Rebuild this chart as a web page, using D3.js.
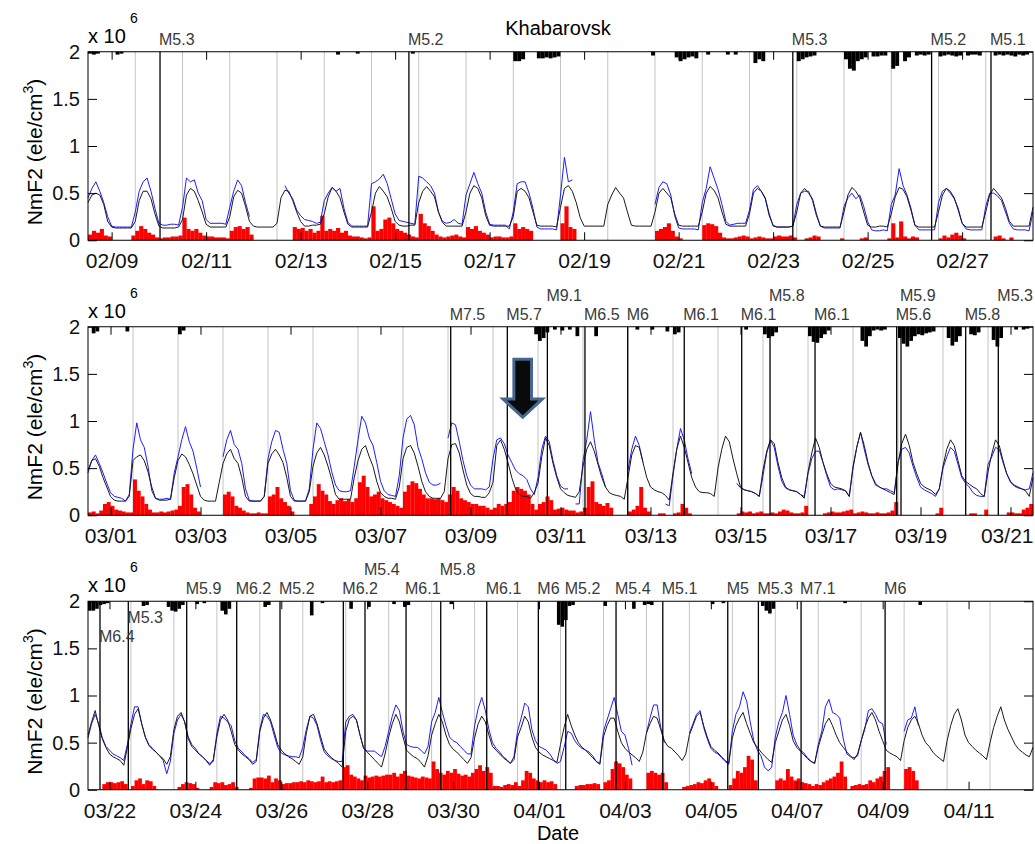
<!DOCTYPE html>
<html>
<head>
<meta charset="utf-8">
<script src="https://cdn.jsdelivr.net/npm/d3@7"></script>
<style>
body { margin: 0; background: #fff; }
svg text { font-family: "Liberation Sans", Arial, sans-serif; }
</style>
</head>
<body>
<div id="chart"></div>
<script>
var width = 1035,
    height = 844,
    left = 88,
    right = 1033,
    panelH = 188.5;

var _ = null; // no data

// every series is sampled each 2 hours from 12:00 UT of the panel's first day,
// values are NmF2 in units of 10^4 ele/cm3 (so 50 = 0.5 x 10^6)

// ---- panel 1: 02/08 12:00 .. 02/28 12:00 ----
var start1 = "2011-02-08T12:00Z", days1 = 20;
var median1 = [
40,48,50,48,38,20,14,13,13,13,13,13,
20,42,52,52,44,28,15,13,13,13,13,14,
22,48,55,52,42,30,17,14,14,14,14,14,
25,46,53,50,36,20,15,14,14,14,14,14,
18,45,53,52,42,30,20,15,15,16,16,17,
28,46,56,52,45,30,17,14,14,14,14,14,
30,50,57,52,46,34,20,16,15,15,16,16,
40,52,57,52,46,30,19,15,15,15,15,15,
30,50,58,55,45,26,16,15,15,15,15,15,
25,52,55,52,45,30,16,15,15,15,15,14,
35,55,58,52,40,24,15,15,15,15,15,15,
38,48,56,50,45,30,16,15,15,15,15,15,
30,50,55,50,45,28,16,15,15,15,15,15,
30,50,57,53,45,30,17,15,15,15,15,15,
28,50,55,52,45,28,15,14,14,14,14,15,
30,50,55,50,44,28,15,14,14,14,14,14,
30,48,56,52,45,30,16,14,14,15,15,14,
28,46,56,54,46,32,16,14,14,14,14,14,
30,48,55,52,45,32,18,14,14,14,14,14,
30,48,55,50,45,34,20,15,15,15,15,15,
35];
var observed1 = [
45,55,62,52,40,25,15,14,14,14,14,14,
30,52,62,66,52,34,18,16,16,17,17,16,
35,66,62,64,50,42,22,18,18,18,18,17,
35,52,64,58,40,25,_,_,_,_,_,_,
_,_,58,50,44,32,26,22,21,20,18,19,
42,50,56,52,55,34,19,15,15,15,15,15,
60,62,65,70,60,44,28,21,20,19,18,17,
68,66,62,58,50,30,20,18,19,22,18,17,
48,60,72,60,50,30,17,16,16,16,16,12,
30,60,62,62,50,34,14,12,12,12,12,11,
48,88,62,64,_,_,_,_,_,_,_,_,
_,_,_,_,_,_,_,_,_,_,_,_,
38,56,62,60,48,26,13,12,12,12,12,11,
40,55,78,66,54,38,20,16,17,18,18,18,
32,54,58,52,44,26,16,14,14,14,14,15,
38,50,52,52,42,26,15,13,13,13,13,13,
36,45,50,44,48,36,20,11,10,10,11,10,
38,48,76,58,48,34,16,11,11,11,11,11,
40,52,55,50,44,34,18,12,11,11,11,11,
36,50,50,47,42,30,18,12,11,11,11,10,
30];
var excess1 = [
6,10,8,12,5,4,0,0,0,0,0,5,
10,15,12,8,6,3,2,3,3,4,4,5,
24,12,10,12,8,5,4,4,3,3,3,2,
10,14,15,12,14,6,0,0,0,0,0,0,
0,0,0,0,14,12,13,10,12,8,10,26,
10,12,10,13,8,10,5,4,4,3,2,3,
36,10,12,22,24,18,12,10,8,6,4,3,
28,18,15,10,6,4,3,4,5,6,4,3,
14,12,15,10,8,6,3,4,4,3,3,4,
18,12,14,12,10,0,0,0,0,0,0,0,
18,36,14,12,0,0,0,0,0,0,0,0,
0,0,0,0,0,0,0,0,0,0,0,0,
10,12,14,18,10,4,2,0,0,0,0,0,
16,18,17,15,8,3,2,2,3,4,5,4,
2,3,4,3,2,2,4,5,4,4,5,3,
0,0,2,3,5,4,0,0,0,0,0,2,
0,0,0,0,2,3,0,0,0,0,0,2,
18,3,20,4,2,4,3,0,0,0,0,0,
2,5,3,6,8,5,2,0,0,0,0,0,
0,0,4,5,2,0,3,0,0,0,0,0];
// [sample index, depth below 2 x 10^6]
var deficit1 = [[0,2],[1,3],[2,2],[7,3],[8,2],[63,3],[68,2],[82,2],[108,10],[109,10],[110,8],
[114,7],[115,7],[116,6],[117,7],[118,6],[119,5],[143,4],[149,6],[150,10],[151,8],[152,6],[153,5],
[154,7],[157,3],[162,3],[164,3],[169,12],[170,8],[171,10],[180,10],[181,8],[182,6],[183,5],[184,4],
[192,8],[193,18],[194,20],[195,10],[196,8],[197,6],[199,5],[200,5],[201,4],[202,4],[204,18],[205,15],
[207,10],[208,6],[210,4],[211,3],[212,4],[213,3],[216,5],[217,4],[218,3],[219,4],[220,5],[221,4],
[223,4],[224,3],[225,3],[226,4],[230,4],[231,3],[232,4],[233,3],[234,4],[235,5],[236,3],[237,4],[238,3]];
var ticks1 = ["02/09","02/11","02/13","02/15","02/17","02/19","02/21","02/23","02/25","02/27"];
// [time UT, magnitude, label row]
var quakes1 = [["2011-02-10T00:35Z","M5.3",1],["2011-02-15T07:00Z","M5.2",1],
["2011-02-23T10:00Z","M5.3",1],["2011-02-26T08:30Z","M5.2",1],["2011-02-27T14:40Z","M5.1",1]];

// ---- panel 2: 02/28 12:00 .. 03/21 12:00 ----
var start2 = "2011-02-28T12:00Z", days2 = 21;
var median2 = [
48,58,60,52,40,30,20,16,15,15,15,20,
58,62,64,58,46,30,18,16,16,16,17,40,
58,65,62,54,44,32,20,16,15,15,15,35,
55,65,70,60,55,40,20,15,15,15,15,20,
55,65,70,64,56,40,20,15,15,15,15,25,
52,66,72,64,52,38,22,17,17,17,17,40,
58,70,74,62,52,36,24,20,18,18,17,30,
60,72,74,66,52,36,25,20,18,18,18,25,
60,75,76,66,48,32,23,20,20,19,19,24,
35,74,80,70,56,40,28,22,20,20,18,24,
34,62,82,74,55,40,28,24,21,20,19,25,
52,70,78,68,54,40,30,24,22,21,20,17,
40,64,74,72,56,40,30,27,25,24,21,16,
45,70,84,72,56,40,30,25,24,24,23,20,
50,70,84,78,60,44,30,27,26,25,23,20,
48,68,80,76,56,40,30,27,26,25,22,18,
46,66,82,72,56,44,34,30,29,28,26,20,
50,72,88,74,56,42,34,30,28,26,24,22,
55,76,86,74,56,44,34,30,28,26,22,28,
52,70,80,74,58,42,36,33,30,28,23,20,
46,65,80,74,58,44,36,32,30,28,26,20,
40];
var observed2 = [
45,58,64,55,45,34,24,20,19,18,15,22,
70,98,80,72,52,26,18,17,17,18,17,45,
62,80,94,78,68,50,30,_,_,_,_,_,
62,80,90,75,70,55,28,16,15,15,15,20,
60,78,90,88,70,55,26,16,15,15,15,28,
70,98,92,78,64,46,32,26,25,25,26,52,
80,105,98,82,74,56,36,26,22,21,20,42,
82,102,106,96,72,60,45,35,32,32,34,_,
82,98,96,78,58,42,32,28,28,28,27,30,
60,80,82,76,64,56,48,44,42,38,28,22,
40,70,84,78,58,42,31,28,28,_,12,12,
58,80,110,80,56,44,30,_,_,_,_,_,
48,70,84,74,56,_,_,_,_,_,12,10,
42,70,92,80,60,44,_,_,_,_,_,_,
_,_,_,_,_,34,29,27,26,25,23,20,
42,66,80,72,52,36,29,27,26,25,22,20,
44,60,68,68,56,42,30,27,28,27,26,20,
52,72,88,70,54,42,32,30,28,28,26,24,
56,70,72,66,52,40,30,27,25,23,20,28,
50,62,72,68,54,40,34,30,24,21,20,20,
54,62,72,70,56,44,35,31,29,28,27,28,
45];
var excess2 = [
3,4,2,5,12,14,10,6,5,4,3,3,
38,26,20,12,6,3,3,4,3,4,5,6,
10,30,33,22,8,4,0,0,0,0,0,0,
22,25,20,10,8,5,3,2,2,3,2,2,
20,22,30,18,14,10,4,0,0,0,0,12,
20,33,26,22,15,12,16,18,15,17,14,18,
35,42,30,20,22,25,18,16,14,12,10,8,
25,32,36,34,28,22,18,18,17,18,16,14,
22,30,26,18,16,14,12,12,10,10,8,6,
8,12,10,12,14,26,30,28,26,22,12,6,
12,14,20,16,6,7,8,6,5,5,3,4,
8,30,36,14,12,10,13,8,0,0,0,0,
4,6,10,30,8,4,0,0,2,2,0,0,
2,3,12,8,2,0,0,0,0,0,0,0,
0,0,0,0,0,2,4,3,4,2,3,4,
2,2,3,2,4,6,5,3,2,2,3,10,
0,0,0,0,2,3,4,3,3,4,5,6,
2,3,4,3,2,2,3,2,2,3,5,14,
0,0,0,0,0,0,0,0,0,0,2,8,
0,0,0,0,0,0,0,2,2,0,0,6,
0,0,0,0,0,3,3,2,2,6,8,12];
var deficit2 = [[1,7],[2,5],[10,5],[24,8],[25,4],[119,8],[120,15],[121,12],[122,6],[124,3],[126,4],
[128,3],[130,10],[135,10],[146,3],[150,3],[154,5],[156,8],[157,6],[175,3],[180,8],[181,12],[182,10],
[183,6],[192,10],[193,16],[194,17],[195,12],[196,8],[197,4],[206,15],[207,21],[208,10],[209,4],[210,3],
[211,4],[212,3],[216,12],[217,18],[218,21],[219,15],[220,10],[221,8],[222,9],[223,7],[224,6],[225,5],
[229,12],[230,20],[231,16],[232,10],[235,8],[236,9],[237,6],[241,14],[242,21],[243,12],[247,3],[249,3],[250,2]];
var ticks2 = ["03/01","03/03","03/05","03/07","03/09","03/11","03/13","03/15","03/17","03/19","03/21"];
var quakes2 = [["2011-03-08T13:26Z","M7.5",1],["2011-03-09T19:38Z","M5.7",1],["2011-03-10T17:00Z","M9.1",0],
["2011-03-11T13:03Z","M6.5",1],["2011-03-12T11:50Z","M6",1],["2011-03-13T18:00Z","M6.1",1],
["2011-03-15T00:39Z","M6.1",1],["2011-03-15T15:45Z","M5.8",0],["2011-03-16T15:45Z","M6.1",1],
["2011-03-18T11:18Z","M5.6",1],["2011-03-18T13:36Z","M5.9",0],["2011-03-20T00:06Z","M5.8",1],
["2011-03-20T17:30Z","M5.3",0]];
var arrowAt = ["2011-03-10T03:50Z", 1.04];

// ---- panel 3: 03/21 12:00 .. 04/12 12:00 ----
var start3 = "2011-03-21T12:00Z", days3 = 22;
var median3 = [
58,72,84,68,54,45,38,35,33,31,26,45,
65,80,86,70,56,47,43,40,36,33,27,35,
64,78,82,72,54,46,42,38,35,31,26,32,
56,74,80,74,62,48,42,38,35,32,27,30,
62,76,82,74,62,48,42,38,35,33,30,27,
35,60,78,80,70,56,43,38,34,31,28,24,
62,75,78,74,58,44,40,36,32,28,24,38,
56,70,80,72,56,42,38,35,33,29,24,36,
58,70,80,72,58,48,43,40,36,32,28,34,
55,70,78,72,58,46,42,38,34,31,28,32,
56,66,78,72,56,45,40,37,35,33,31,29,
48,66,80,68,58,50,45,42,38,34,30,27,
56,68,76,76,62,50,44,40,37,34,30,40,
60,70,78,76,64,52,46,44,40,36,31,38,
58,68,78,82,68,56,46,42,39,35,31,28,
55,68,76,82,70,60,50,45,40,36,32,29,
50,62,74,80,68,52,45,41,37,33,30,28,
45,58,70,76,68,58,50,45,40,36,32,38,
52,66,76,82,74,62,52,42,39,37,35,31,
52,66,74,78,70,58,50,46,40,36,33,30,
52,68,80,86,74,58,50,46,42,39,36,32,
50,66,78,88,74,64,56,48,43,40,37,35,
45];
var observed3 = [
55,70,80,70,55,46,42,38,36,34,31,48,
70,88,88,70,56,48,44,40,36,31,17,30,
60,74,80,72,56,48,44,38,35,31,28,30,
60,78,76,72,68,52,44,40,36,33,29,32,
64,80,78,72,58,45,39,37,36,35,35,34,
45,64,78,76,68,52,40,36,33,31,30,30,
72,78,80,74,58,44,41,41,41,38,35,46,
62,78,90,84,62,48,46,45,45,42,38,46,
72,82,98,82,68,56,52,50,46,42,38,38,
68,86,98,84,64,50,44,40,35,32,28,35,
62,76,92,88,64,52,46,44,42,38,32,28,
30,45,62,60,52,47,44,42,40,36,30,28,
62,74,86,98,80,62,58,44,26,_,_,_,
60,76,90,90,66,50,_,_,_,_,_,_,
60,70,80,84,66,54,44,40,38,34,30,27,
62,80,88,104,94,72,52,42,36,24,20,24,
56,72,82,100,80,58,48,42,39,34,30,28,
48,62,88,96,82,80,76,54,38,35,34,36,
52,64,84,86,80,72,70,48,_,_,_,_,
62,74,76,88,68,_,_,_,_,_,_,_,
_,_,_,_,_,_,_,_,_,_,_,_,
_,_,_,_,_,_,_,_,_,_,_,_,
_];
var excess3 = [
0,0,0,0,6,8,8,7,8,9,6,0,
4,10,12,6,10,9,4,0,0,0,0,0,
0,3,6,8,7,6,2,0,0,0,3,8,
7,8,5,6,8,3,0,0,0,2,12,13,
13,12,15,8,12,10,6,7,7,8,8,9,
8,10,9,8,9,14,8,9,8,9,10,24,
26,16,14,12,10,15,13,14,15,14,15,16,
16,18,14,17,20,15,14,13,12,14,13,12,
30,22,18,16,20,18,22,17,15,16,14,18,
22,26,20,24,18,4,4,3,5,6,5,8,
4,10,20,18,12,10,8,10,8,9,6,0,
0,0,0,0,4,5,5,6,6,7,6,0,
8,10,22,30,28,24,16,12,0,0,0,0,
18,20,18,16,18,8,0,0,0,0,3,4,
5,6,8,7,10,12,8,4,0,0,0,5,
12,20,18,24,36,32,10,0,0,0,0,0,
10,12,10,22,14,10,12,8,7,6,4,6,
5,8,10,12,14,18,30,14,0,4,5,6,
5,6,10,8,12,14,20,24,0,0,0,0,
22,24,20,10,0,0,0,0,0,0,0,0,
0,0,0,0,0,0,0,0,0,0,0,0,
0,0,0,0,0,0,0,0,0,0,0,0];
var deficit3 = [[0,10],[1,10],[2,8],[3,4],[4,3],[5,2],[15,5],[16,4],[22,6],[23,10],[24,11],[25,8],[26,4],
[30,3],[32,2],[37,10],[38,14],[39,8],[49,6],[50,4],[62,15],[65,2],[73,8],[78,6],[85,3],[88,6],[89,4],
[101,3],[131,25],[132,27],[133,20],[134,5],[135,4],[144,5],[152,8],[155,4],[156,3],[157,4],[174,3],
[177,2],[188,5],[189,10],[190,13],[191,8],[211,2],[232,4]];
var ticks3 = ["03/22","03/24","03/26","03/28","03/30","04/01","04/03","04/05","04/07","04/09","04/11"];
var quakes3 = [["2011-03-21T18:42Z","M6.4",3],["2011-03-22T10:31Z","M5.3",2],["2011-03-23T19:09Z","M5.9",1],
["2011-03-24T23:05Z","M6.2",1],["2011-03-25T23:17Z","M5.2",1],["2011-03-27T10:39Z","M6.2",1],
["2011-03-27T22:46Z","M5.4",0],["2011-03-28T21:42Z","M6.1",1],["2011-03-29T17:05Z","M5.8",0],
["2011-03-30T18:47Z","M6.1",1],["2011-03-31T23:37Z","M6",1],["2011-04-01T14:56Z","M5.2",1],
["2011-04-02T19:02Z","M5.4",1],["2011-04-03T21:09Z","M5.1",1],["2011-04-05T09:27Z","M5",1],
["2011-04-06T02:34Z","M5.3",1],["2011-04-07T02:25Z","M7.1",1],["2011-04-09T01:22Z","M6",1]];

var yTicks = [0, 0.5, 1, 1.5, 2];
var labelRowDy = [-26, -7, 22, 41];

var svg = d3.select("#chart")
    .append("svg")
    .attr("width", width)
    .attr("height", height);

var parseTick = d3.utcParse("%Y/%m/%d");

function drawPanel(p) {
    var t0 = new Date(p.start),
        t1 = d3.utcHour.offset(t0, p.days * 24);
    var x = d3.scaleUtc().domain([t0, t1]).range([left, right]);
    var y = d3.scaleLinear().domain([0, 2]).range([p.top + panelH, p.top]);
    var time = function(i) { return d3.utcHour.offset(t0, 2 * i); };
    var step = x(time(1)) - x(time(0));
    var g = svg.append("g");

    // local day marks at 12 UT
    var noons = d3.utcDays(t0, t1)
        .map(function(d) { return d3.utcHour.offset(d, 12); })
        .filter(function(d) { return d > t0 && d < t1; });
    g.selectAll(".noon")
        .data(noons)
        .enter()
        .append("line")
        .attr("x1", function(d) { return x(d); })
        .attr("x2", function(d) { return x(d); })
        .attr("y1", y(2))
        .attr("y2", y(0))
        .style("stroke", "#c4c4c4")
        .style("stroke-width", 1);

    // red bars at the bottom
    g.selectAll(".excess")
        .data(p.excess.map(function(v, i) { return {i: i, v: v}; }).filter(function(d) { return d.v > 0; }))
        .enter()
        .append("rect")
        .attr("x", function(d) { return x(time(d.i)); })
        .attr("width", step + 0.2)
        .attr("y", function(d) { return y(d.v / 100); })
        .attr("height", function(d) { return y(0) - y(d.v / 100); })
        .style("fill", "#ff0000");

    // black bars hanging from the top
    g.selectAll(".deficit")
        .data(p.deficit)
        .enter()
        .append("rect")
        .attr("x", function(d) { return x(time(d[0])); })
        .attr("width", step)
        .attr("y", y(2))
        .attr("height", function(d) { return y(2 - d[1] / 100) - y(2); })
        .style("fill", "#000");

    var line = d3.line()
        .defined(function(d) { return d.v != null; })
        .x(function(d) { return x(time(d.i)); })
        .y(function(d) { return y(d.v / 100); });
    var toPts = function(arr) { return arr.map(function(v, i) { return {i: i, v: v}; }); };

    g.append("path")
        .attr("d", line(toPts(p.observed)))
        .style("fill", "none")
        .style("stroke", "#1c1cff")
        .style("stroke-width", 1);

    g.append("path")
        .attr("d", line(toPts(p.median)))
        .style("fill", "none")
        .style("stroke", "#1a1a1a")
        .style("stroke-width", 1);

    // earthquakes
    var qs = p.quakes.map(function(q) { return {t: new Date(q[0]), m: q[1], row: q[2]}; });
    g.selectAll(".quake")
        .data(qs)
        .enter()
        .append("line")
        .attr("x1", function(d) { return x(d.t); })
        .attr("x2", function(d) { return x(d.t); })
        .attr("y1", y(2))
        .attr("y2", y(0))
        .style("stroke", "#000")
        .style("stroke-width", 1.3);
    g.selectAll(".qlabel")
        .data(qs)
        .enter()
        .append("text")
        .attr("x", function(d) { return x(d.t) - 1; })
        .attr("y", function(d) { return p.top + labelRowDy[d.row]; })
        .style("font-size", "16px")
        .style("fill", "#3a3a3a")
        .text(function(d) { return d.m; });

    // frame
    g.append("rect")
        .attr("x", left)
        .attr("y", p.top)
        .attr("width", right - left)
        .attr("height", panelH)
        .style("fill", "none")
        .style("stroke", "#000")
        .style("stroke-width", 1);

    var tickDates = p.ticks.map(function(s) { return parseTick("2011/" + s); });

    var bottom = g.append("g")
        .attr("transform", "translate(0," + y(0) + ")")
        .call(d3.axisBottom(x).tickValues(tickDates).tickFormat(d3.utcFormat("%m/%d"))
            .tickSizeInner(-8).tickSizeOuter(0).tickPadding(13));
    var topAx = g.append("g")
        .attr("transform", "translate(0," + y(2) + ")")
        .call(d3.axisTop(x).tickValues(tickDates).tickFormat("")
            .tickSizeInner(-8).tickSizeOuter(0));
    var leftAx = g.append("g")
        .attr("transform", "translate(" + left + ",0)")
        .call(d3.axisLeft(y).tickValues(yTicks).tickFormat(d3.format("~g"))
            .tickSizeInner(-9).tickSizeOuter(0).tickPadding(8));
    var rightAx = g.append("g")
        .attr("transform", "translate(" + right + ",0)")
        .call(d3.axisRight(y).tickValues(yTicks).tickFormat("")
            .tickSizeInner(-9).tickSizeOuter(0));
    [bottom, topAx, leftAx, rightAx].forEach(function(a) {
        a.select(".domain").remove();
        a.attr("font-size", 20).attr("font-family", "Liberation Sans, Arial, sans-serif");
        a.selectAll("text").style("fill", "#111");
    });
    bottom.attr("font-size", 21);
    // keep the last date label inside the picture
    bottom.selectAll(".tick").each(function(d) {
        var t = d3.select(this).select("text"),
            over = x(d) + t.node().getComputedTextLength() / 2 - (width - 2);
        if (over > 0) t.attr("x", -over);
    });

    // multiplier
    g.append("text")
        .attr("x", left)
        .attr("y", p.top - 9)
        .style("font-size", "20px")
        .text("x 10");
    g.append("text")
        .attr("x", left + 42)
        .attr("y", p.top - 29)
        .style("font-size", "14px")
        .text("6");

    // y axis label
    var yl = g.append("text")
        .attr("transform", "translate(42," + (p.top + panelH / 2 + 6) + ") rotate(-90)")
        .attr("text-anchor", "middle")
        .style("font-size", "21px");
    yl.append("tspan").text("NmF2 (ele/cm");
    yl.append("tspan").attr("dy", -9).style("font-size", "14px").text("3");
    yl.append("tspan").attr("dy", 9).text(")");

    return {x: x, y: y};
}

drawPanel({top: 51.75, start: start1, days: days1, median: median1, observed: observed1,
    excess: excess1, deficit: deficit1, ticks: ticks1, quakes: quakes1});
var p2 = drawPanel({top: 326.75, start: start2, days: days2, median: median2, observed: observed2,
    excess: excess2, deficit: deficit2, ticks: ticks2, quakes: quakes2});
drawPanel({top: 601.25, start: start3, days: days3, median: median3, observed: observed3,
    excess: excess3, deficit: deficit3, ticks: ticks3, quakes: quakes3});

// arrow pointing at the 03/10 pass
var ax = p2.x(new Date(arrowAt[0])), ay = p2.y(arrowAt[1]);
svg.append("path")
    .attr("d", "M" + (ax - 8.8) + "," + (ay - 58) + "H" + (ax + 8.8) + "V" + (ay - 18.3) +
        "H" + (ax + 19.7) + "L" + ax + "," + ay + "L" + (ax - 19.7) + "," + (ay - 18.3) +
        "H" + (ax - 8.8) + "Z")
    .style("fill", "#0a0a0a")
    .style("stroke", "#45668f")
    .style("stroke-width", 3)
    .style("stroke-linejoin", "miter");

// title and x label
svg.append("text")
    .attr("x", 558)
    .attr("y", 35)
    .attr("text-anchor", "middle")
    .style("font-size", "20px")
    .text("Khabarovsk");
svg.append("text")
    .attr("x", 558)
    .attr("y", 840)
    .attr("text-anchor", "middle")
    .style("font-size", "20px")
    .text("Date");
</script>
</body>
</html>
